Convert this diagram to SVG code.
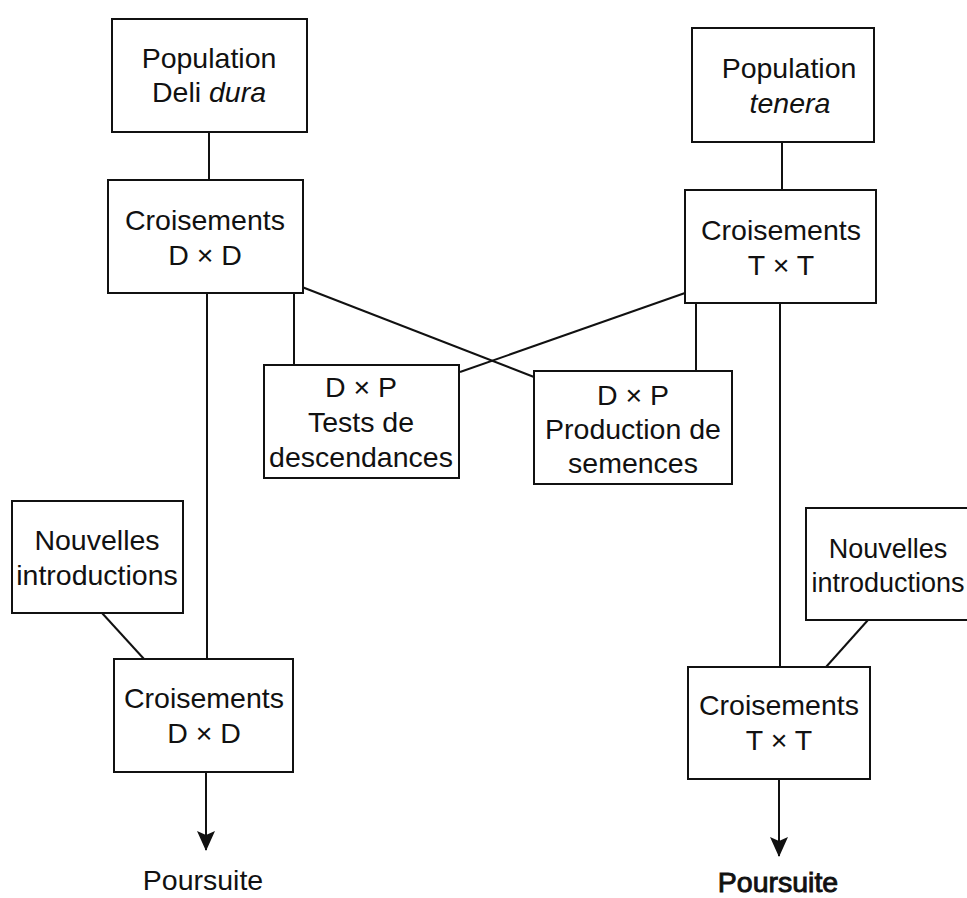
<svg xmlns="http://www.w3.org/2000/svg" width="967" height="898" viewBox="0 0 967 898">
  <style>
    .box { fill: #ffffff; stroke: #111111; stroke-width: 2; }
    .lbl { font-family: "Liberation Sans", Arial, sans-serif; font-size: 28.5px; fill: #111111; text-anchor: middle; }
    .it { font-style: italic; }
    .small { font-size: 27px; }
    .link { fill: none; stroke: #111111; stroke-width: 2; }
    .bold { stroke: #111111; stroke-width: 0.9; }
  </style>
  <defs>
    <marker id="arrow" viewBox="0 0 20 18" refX="19" refY="9" markerWidth="20" markerHeight="18" markerUnits="userSpaceOnUse" orient="auto">
      <path d="M0,0 L20,9 L0,18 L4,9 Z" fill="#111111"/>
    </marker>
  </defs>
  <rect width="967" height="898" fill="#ffffff"/>

  <g id="connectors">
    <line class="link" x1="209" y1="132" x2="209" y2="180"/>
    <line class="link" x1="782" y1="142" x2="782" y2="190"/>
    <line class="link" x1="294" y1="293" x2="294" y2="365"/>
    <line class="link" x1="696" y1="303" x2="696" y2="371"/>
    <line class="link" x1="302" y1="287" x2="534" y2="377"/>
    <line class="link" x1="685" y1="293" x2="460" y2="372"/>
    <line class="link" x1="207" y1="293" x2="207" y2="659"/>
    <line class="link" x1="780" y1="303" x2="780" y2="667"/>
    <line class="link" x1="102" y1="613" x2="144" y2="659"/>
    <line class="link" x1="868" y1="620" x2="826" y2="667"/>
    <line class="link" x1="206" y1="772" x2="206" y2="850" marker-end="url(#arrow)"/>
    <line class="link" x1="779" y1="779" x2="779" y2="856" marker-end="url(#arrow)"/>
  </g>

  <g id="pop-dura">
    <rect class="box" x="112" y="19" width="195" height="113"/>
    <text class="lbl" x="209" y="68">Population</text>
    <text class="lbl" x="209" y="102">Deli <tspan class="it">dura</tspan></text>
  </g>

  <g id="pop-tenera">
    <rect class="box" x="692" y="28" width="182" height="114"/>
    <text class="lbl" x="789" y="78">Population</text>
    <text class="lbl it" x="790" y="113">tenera</text>
  </g>

  <g id="cross-dd-1">
    <rect class="box" x="108" y="180" width="195" height="113"/>
    <text class="lbl" x="205" y="230">Croisements</text>
    <text class="lbl" x="205" y="265">D × D</text>
  </g>

  <g id="cross-tt-1">
    <rect class="box" x="685" y="190" width="191" height="113"/>
    <text class="lbl" x="781" y="240">Croisements</text>
    <text class="lbl" x="781" y="275">T × T</text>
  </g>

  <g id="dp-tests">
    <rect class="box" x="264" y="365" width="195" height="113"/>
    <text class="lbl" x="361" y="397">D × P</text>
    <text class="lbl" x="361" y="432">Tests de</text>
    <text class="lbl" x="361" y="467">descendances</text>
  </g>

  <g id="dp-production">
    <rect class="box" x="534" y="371" width="198" height="113"/>
    <text class="lbl" x="633" y="405">D × P</text>
    <text class="lbl" x="633" y="439">Production de</text>
    <text class="lbl" x="633" y="473">semences</text>
  </g>

  <g id="intro-left">
    <rect class="box" x="12" y="501" width="171" height="112"/>
    <text class="lbl" x="97" y="550">Nouvelles</text>
    <text class="lbl" x="97" y="585">introductions</text>
  </g>

  <g id="intro-right">
    <rect class="box" x="806" y="508" width="180" height="112"/>
    <text class="lbl small" x="888" y="558">Nouvelles</text>
    <text class="lbl small" x="888" y="592">introductions</text>
  </g>

  <g id="cross-dd-2">
    <rect class="box" x="114" y="659" width="179" height="113"/>
    <text class="lbl" x="204" y="708">Croisements</text>
    <text class="lbl" x="204" y="743">D × D</text>
  </g>

  <g id="cross-tt-2">
    <rect class="box" x="688" y="667" width="182" height="112"/>
    <text class="lbl" x="779" y="715">Croisements</text>
    <text class="lbl" x="779" y="750">T × T</text>
  </g>

  <g id="next-left">
    <text class="lbl" x="203" y="890">Poursuite</text>
  </g>

  <g id="next-right">
    <text class="lbl bold" x="778" y="892">Poursuite</text>
  </g>
</svg>
